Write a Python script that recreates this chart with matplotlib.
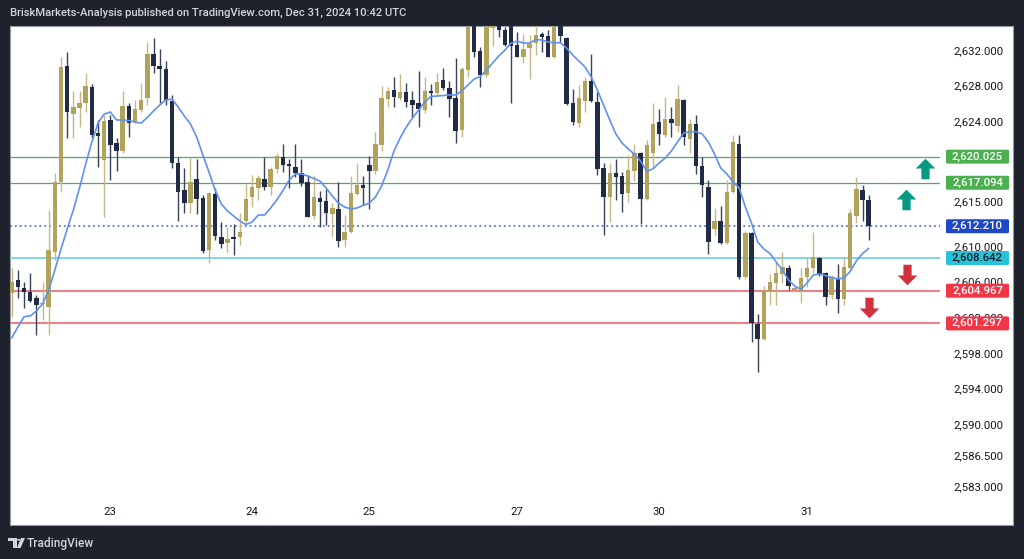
import matplotlib
matplotlib.use("Agg")
import matplotlib.pyplot as plt
from matplotlib.path import Path
from matplotlib.patches import FancyBboxPatch, Polygon, Circle

# ---------------- data (hourly XAUUSD candles) ----------------
opens = [2604.68, 2606.17, 2605.31, 2604.86, 2604.12, 2603.48, 2603.17, 2609.35, 2617.21, 2630.20,
         2624.81, 2625.45, 2626.08, 2627.81, 2622.65, 2619.65, 2624.14, 2621.59, 2620.69, 2625.71,
         2623.95, 2625.26, 2626.58, 2631.55, 2630.20, 2629.90, 2626.31, 2619.28, 2616.28, 2614.79,
         2617.48, 2615.41, 2609.54, 2615.83, 2611.04, 2610.36, 2611.04, 2611.04, 2612.83, 2615.53,
         2616.54, 2617.48, 2616.65, 2618.64, 2620.02, 2619.17, 2618.90, 2618.22, 2617.18, 2613.36,
         2615.41, 2615.08, 2613.58, 2614.11, 2610.66, 2611.53, 2615.80, 2616.84, 2619.09, 2618.45,
         2621.33, 2626.50, 2627.51, 2626.58, 2627.32, 2626.39, 2626.02, 2625.26, 2627.40, 2627.21,
         2628.63, 2627.70, 2626.58, 2623.02, 2629.75, 2634.81, 2631.92, 2629.19, 2634.47, 2635.37,
         2634.25, 2635.15, 2632.56, 2631.25, 2632.19, 2632.82, 2633.80, 2633.57, 2631.25, 2635.15,
         2633.31, 2626.02, 2623.84, 2626.31, 2628.55, 2626.20, 2618.72, 2615.53, 2618.15, 2617.85,
         2615.91, 2618.45, 2620.47, 2615.23, 2620.40, 2623.95, 2622.46, 2624.22, 2623.47, 2626.39,
         2621.97, 2623.69, 2618.97, 2616.65, 2611.87, 2612.83, 2610.36, 2616.09, 2621.44, 2606.48,
         2611.48, 2601.23, 2599.51, 2604.86, 2605.87, 2606.85, 2607.55, 2605.05, 2604.97, 2606.48,
         2607.49, 2608.61, 2606.92, 2604.49, 2606.36, 2604.00, 2607.49, 2613.39, 2616.28, 2615.16]

highs = [2607.52, 2607.30, 2605.98, 2606.96, 2604.49, 2605.98, 2614.03, 2618.19, 2631.25, 2631.81,
         2627.43, 2627.43, 2629.38, 2628.18, 2624.14, 2624.70, 2624.70, 2622.08, 2627.43, 2626.08,
         2626.39, 2628.26, 2632.93, 2633.31, 2632.08, 2630.80, 2626.95, 2620.02, 2618.72, 2619.95,
         2619.73, 2615.72, 2616.09, 2616.47, 2612.72, 2612.16, 2612.46, 2613.66, 2616.95, 2617.96,
         2617.96, 2619.95, 2618.90, 2620.47, 2621.44, 2619.73, 2621.44, 2619.73, 2617.96, 2617.96,
         2616.20, 2616.36, 2614.79, 2617.21, 2613.47, 2617.85, 2619.34, 2617.85, 2620.10, 2622.83,
         2627.96, 2627.88, 2629.00, 2629.31, 2628.26, 2627.43, 2629.68, 2629.00, 2628.15, 2629.38,
         2629.95, 2628.55, 2631.07, 2630.13, 2635.15, 2635.15, 2632.37, 2635.15, 2635.60, 2635.60,
         2634.62, 2635.37, 2634.06, 2633.80, 2633.68, 2635.15, 2634.06, 2634.25, 2635.60, 2635.60,
         2633.49, 2627.59, 2628.07, 2629.00, 2631.55, 2627.32, 2619.34, 2619.34, 2619.73, 2618.33,
         2620.21, 2621.44, 2620.58, 2621.89, 2626.08, 2625.34, 2626.69, 2625.57, 2628.07, 2626.46,
         2624.22, 2624.70, 2620.02, 2617.40, 2614.26, 2614.48, 2617.40, 2622.46, 2622.46, 2611.68,
         2611.60, 2602.35, 2605.50, 2606.85, 2608.23, 2609.35, 2607.86, 2605.50, 2607.49, 2608.61,
         2611.60, 2608.79, 2607.10, 2606.73, 2607.97, 2608.61, 2614.11, 2617.70, 2616.84, 2615.72]

lows = [2602.05, 2604.15, 2603.03, 2603.70, 2600.00, 2601.68, 2600.00, 2608.42, 2616.09, 2622.08,
        2622.08, 2623.32, 2625.07, 2622.08, 2618.90, 2613.21, 2617.40, 2618.45, 2620.47, 2622.20,
        2623.77, 2625.07, 2625.82, 2629.38, 2626.02, 2625.82, 2618.72, 2612.83, 2613.73, 2613.73,
        2613.58, 2609.17, 2608.05, 2610.66, 2609.73, 2609.35, 2608.98, 2610.10, 2612.46, 2614.40,
        2615.16, 2616.28, 2615.72, 2618.15, 2618.33, 2616.47, 2617.77, 2616.73, 2613.21, 2612.99,
        2612.09, 2612.35, 2611.04, 2609.91, 2609.91, 2611.42, 2615.72, 2614.59, 2614.11, 2618.08,
        2620.69, 2625.57, 2625.57, 2626.39, 2625.57, 2624.51, 2623.39, 2624.96, 2625.82, 2626.69,
        2627.51, 2624.51, 2621.59, 2622.26, 2629.00, 2631.25, 2627.88, 2628.97, 2632.45, 2633.49,
        2632.45, 2626.08, 2631.18, 2630.57, 2628.71, 2631.44, 2631.81, 2631.18, 2631.10, 2632.93,
        2625.82, 2623.58, 2623.32, 2625.07, 2626.20, 2617.96, 2611.23, 2612.72, 2615.16, 2613.84,
        2614.97, 2617.32, 2612.46, 2615.16, 2618.72, 2621.33, 2622.20, 2622.20, 2622.83, 2621.33,
        2620.40, 2618.08, 2615.53, 2609.09, 2611.23, 2610.22, 2610.22, 2615.98, 2606.25, 2606.28,
        2599.24, 2595.87, 2599.43, 2603.37, 2603.37, 2605.80, 2605.05, 2604.83, 2603.56, 2605.42,
        2606.92, 2606.62, 2603.37, 2604.00, 2602.43, 2603.37, 2607.30, 2612.61, 2612.83, 2610.66]

closes = [2605.98, 2605.42, 2604.86, 2603.85, 2603.37, 2603.62, 2609.54, 2617.21, 2630.13, 2625.07,
          2625.57, 2626.08, 2627.96, 2622.46, 2622.34, 2624.06, 2621.33, 2620.69, 2625.71, 2623.77,
          2625.34, 2626.39, 2631.55, 2630.20, 2629.83, 2626.39, 2619.34, 2616.09, 2614.85, 2617.14,
          2615.27, 2609.46, 2615.91, 2611.11, 2610.22, 2610.74, 2610.78, 2611.60, 2615.27, 2616.65,
          2617.59, 2616.65, 2618.64, 2620.10, 2619.09, 2618.97, 2618.15, 2617.03, 2613.28, 2615.53,
          2614.97, 2613.73, 2614.22, 2610.59, 2611.60, 2615.98, 2616.84, 2616.47, 2618.41, 2621.44,
          2626.58, 2627.43, 2626.76, 2627.32, 2626.20, 2625.82, 2625.34, 2627.43, 2627.14, 2628.44,
          2627.70, 2626.46, 2622.90, 2629.83, 2634.62, 2631.81, 2629.19, 2634.62, 2635.37, 2634.25,
          2632.56, 2632.45, 2631.25, 2632.08, 2632.67, 2633.68, 2633.49, 2631.25, 2635.15, 2633.57,
          2625.94, 2623.95, 2626.58, 2628.55, 2626.31, 2618.60, 2615.53, 2618.15, 2617.77, 2615.83,
          2618.52, 2620.47, 2615.23, 2621.33, 2623.69, 2622.57, 2624.22, 2623.84, 2626.46, 2622.20,
          2623.69, 2618.97, 2616.84, 2610.44, 2612.83, 2610.29, 2616.09, 2621.70, 2606.48, 2611.48,
          2601.38, 2599.51, 2605.05, 2605.91, 2606.92, 2607.67, 2605.53, 2605.24, 2606.36, 2607.49,
          2608.72, 2606.73, 2604.30, 2606.48, 2604.00, 2607.67, 2613.66, 2616.36, 2615.16, 2612.21]

ma_values = [2599.66, 2600.89, 2602.05, 2602.13, 2602.69, 2603.48, 2605.05, 2607.30, 2609.65, 2611.90,
             2614.03, 2616.50, 2619.20, 2621.67, 2623.80, 2624.81, 2625.04, 2624.14, 2624.14, 2624.08,
             2623.91, 2623.80, 2624.42, 2625.15, 2625.82, 2626.39, 2626.50, 2625.60, 2624.59, 2623.69,
             2622.23, 2620.21, 2618.30, 2616.28, 2614.71, 2613.92, 2613.36, 2612.80, 2612.40, 2612.69,
             2613.47, 2613.47, 2614.26, 2615.16, 2616.22, 2617.40, 2618.08, 2618.08, 2617.85, 2617.57,
             2617.29, 2616.50, 2615.61, 2614.82, 2614.37, 2614.15, 2614.26, 2614.54, 2614.82, 2615.49,
             2616.73, 2618.52, 2620.66, 2622.12, 2623.35, 2624.36, 2625.26, 2626.16, 2626.78, 2626.84,
             2626.89, 2626.95, 2626.95, 2627.40, 2628.07, 2628.74, 2629.02, 2629.75, 2630.54, 2631.33,
             2632.00, 2632.79, 2633.01, 2632.79, 2632.79, 2633.18, 2633.12, 2632.90, 2632.82, 2632.82,
             2632.22, 2631.44, 2630.77, 2630.09, 2628.97, 2627.51, 2625.82, 2624.14, 2622.57, 2621.56,
             2620.88, 2620.32, 2619.53, 2618.41, 2618.64, 2619.31, 2619.87, 2620.66, 2621.67, 2622.68,
             2622.83, 2622.83, 2622.57, 2621.67, 2620.32, 2618.75, 2618.08, 2617.18, 2616.50, 2614.37,
             2612.57, 2610.44, 2609.65, 2609.15, 2608.19, 2607.30, 2606.17, 2605.50, 2605.11, 2605.84,
             2606.73, 2606.85, 2606.68, 2606.45, 2606.28, 2606.40, 2607.13, 2608.31, 2609.15, 2609.71]

date_labels = ["23", "24", "25", "27", "30", "31"]
date_bar_index = [16, 39, 58, 82, 105, 129]

ytick_values = [2632.0, 2628.0, 2624.0, 2620.0, 2615.0, 2610.0, 2606.0, 2602.0,
                2598.0, 2594.0, 2590.0, 2586.5, 2583.0]

level_prices = [2620.025, 2617.094, 2612.210, 2608.642, 2604.967, 2601.297]
level_kinds = ["target", "target", "last", "pivot", "support", "support"]

arrow_bar = [148.1, 145.1, 145.2, 139.1]
arrow_price = [2618.6, 2615.2, 2606.9, 2603.1]
arrow_dir = ["up", "up", "down", "down"]

title_text = "BriskMarkets-Analysis published on TradingView.com, Dec 31, 2024 10:42 UTC"

# ---------------- styling ----------------
W, H = 1024, 559
DARK = "#1e222d"
GOLD = "#b1a25c"
NAVY = "#222b45"
MA_COL = "#5f90f4"
styles = {
    "target": dict(line="#4caf50", box="#4caf50", txt="white", ls="-", lw=0.9),
    "last": dict(line="#3a5fd6", box="#1f48c8", txt="white", ls=(0, (1.2, 2.0)), lw=1.1),
    "pivot": dict(line="#7fd6e2", box="#27c3d8", txt="#131722", ls="-", lw=1.4),
    "support": dict(line="#f27a84", box="#f23645", txt="white", ls="-", lw=1.4),
}

plt.rcParams["font.family"] = ["Roboto", "DejaVu Sans"]

fig = plt.figure(figsize=(W / 100, H / 100), dpi=100, facecolor=DARK)


def px_rect(x0, y0, x1, y1):
    """figure-fraction rect from pixel box (y measured from top)"""
    return [x0 / W, 1 - y1 / H, (x1 - x0) / W, (y1 - y0) / H]


# white panel (chart + scales)
bg = fig.add_axes(px_rect(10, 26, 1013, 525), zorder=-1)
bg.set_facecolor("white")
bg.set_xticks([])
bg.set_yticks([])
for s in bg.spines.values():
    s.set_color("#9598a1")
    s.set_linewidth(0.8)

ax = fig.add_axes(px_rect(10, 26, 940, 497))
ax.set_facecolor("none")
for s in ax.spines.values():
    s.set_visible(False)

n = len(opens)
idx = list(range(n))
ax.set_xlim(-0.276, 150.57)
ax.set_ylim(2581.80, 2634.70)

# candles
for i in idx:
    o, h, l, c = opens[i], highs[i], lows[i], closes[i]
    col = GOLD if c >= o else NAVY
    wick = "#c4b884" if c >= o else "#3a4258"
    ax.vlines(i, l, h, color=wick, lw=1.0, zorder=3)
    bottom = min(o, c)
    height = max(abs(c - o), 0.12)
    ax.bar(i, height, bottom=bottom, width=0.72, color=col, linewidth=0, zorder=4)

# moving average
ax.plot(idx, ma_values, color=MA_COL, lw=1.2, zorder=5, solid_capstyle="round")

# horizontal levels
for p, k in zip(level_prices, level_kinds):
    st = styles[k]
    ax.axhline(p, color=st["line"], lw=st["lw"], ls=st["ls"], zorder=2)

# arrows as custom markers
up_path = Path([(0, 0.55), (0.5, 0.05), (0.21, 0.05), (0.21, -0.5), (-0.21, -0.5),
                (-0.21, 0.05), (-0.5, 0.05), (0, 0.55)], closed=True)
down_path = Path([(0, -0.55), (0.5, -0.05), (0.21, -0.05), (0.21, 0.5), (-0.21, 0.5),
                  (-0.21, -0.05), (-0.5, -0.05), (0, -0.55)], closed=True)
for bx, bp, d in zip(arrow_bar, arrow_price, arrow_dir):
    ax.plot([bx], [bp], marker=up_path if d == "up" else down_path, markersize=15.5,
            color="#089981" if d == "up" else "#d3303e", markeredgewidth=0, zorder=6,
            clip_on=False)

# axes ticks
ax.yaxis.tick_right()
ax.set_yticks(ytick_values)
ax.set_yticklabels([f"{v:,.3f}" for v in ytick_values])
ax.tick_params(axis="y", length=0, pad=9.6, labelsize=8.2, labelcolor="#131722")
ax.set_xticks(date_bar_index)
ax.set_xticklabels(date_labels)
ax.tick_params(axis="x", length=0, pad=7, labelsize=8.2, labelcolor="#131722")

# price boxes on the scale
for p, k in zip(level_prices, level_kinds):
    st = styles[k]
    disp = ax.transData.transform((0, p))
    yf = fig.transFigure.inverted().transform(disp)[1]
    bw, bh = 63 / W, 14 / H
    box = FancyBboxPatch((946 / W, yf - bh / 2), bw, bh, boxstyle="round,pad=0,rounding_size=0.002",
                         transform=fig.transFigure, fc=st["box"], ec="none", zorder=5)
    fig.add_artist(box)
    fig.text(977.5 / W, yf, f"{p:,.3f}", ha="center", va="center", color=st["txt"],
             fontsize=8.2, fontweight="medium", zorder=6)

# header text
fig.text(10 / W, 1 - 13 / H, title_text, ha="left", va="center", color="#d1d4dc",
         fontsize=8.1, fontweight="medium")

# TradingView logo (simple vector mark) + wordmark
def P(x, y):
    return (x / W, 1 - y / H)

logo_col = "#d1d4dc"
fig.add_artist(Polygon([P(8, 538), P(16.5, 538), P(16.5, 548), P(12.8, 548), P(12.8, 541.3), P(8, 541.3)],
                       closed=True, transform=fig.transFigure, fc=logo_col, ec="none"))
fig.add_artist(Circle(P(18.6, 539.8), 1.6 / W, transform=fig.transFigure, fc=logo_col, ec="none"))
fig.add_artist(Polygon([P(21, 538), P(25, 538), P(20.5, 548), P(16.8, 548)],
                       closed=True, transform=fig.transFigure, fc=logo_col, ec="none"))
fig.text(27 / W, 1 - 543 / H, "TradingView", ha="left", va="center", color=logo_col,
         fontsize=8.6, fontweight="medium")

fig.savefig("out.png", dpi=100, facecolor=DARK)
